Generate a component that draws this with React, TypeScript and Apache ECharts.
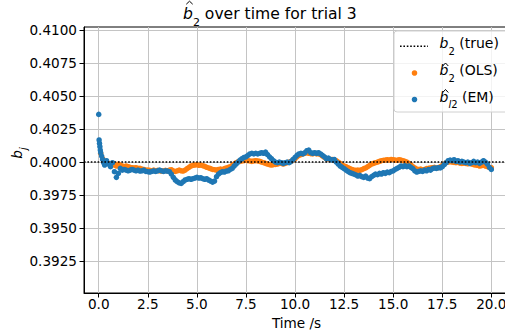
import React, { useEffect, useRef } from "react";
import * as echarts from "echarts";

// Estimates of the b_2 coefficient sampled along the trial (seconds, value)
const sampleTimes: number[] = Array.from({ length: 200 }, (_, i) => (i + 1) / 10);

const olsEstimate: number[] = [
  0.40066, 0.40025, 0.3999, 0.4, 0.3999, 0.3998, 0.3999, 0.39977, 0.3997, 0.39985,
  0.39977, 0.3997, 0.39965, 0.3997, 0.39965, 0.3996, 0.39957, 0.39955, 0.39957, 0.39952,
  0.39952, 0.39947, 0.39944, 0.39939, 0.39939, 0.39937, 0.39934, 0.39939, 0.39934, 0.39937,
  0.39934, 0.39932, 0.39934, 0.39937, 0.39934, 0.39939, 0.39942, 0.39934, 0.39929, 0.39934,
  0.39939, 0.39934, 0.39932, 0.39939, 0.3995, 0.3996, 0.3997, 0.39975, 0.39977, 0.3998,
  0.39975, 0.39977, 0.39972, 0.39967, 0.3996, 0.39955, 0.3995, 0.39944, 0.39942, 0.39939,
  0.39944, 0.39947, 0.39944, 0.3995, 0.39955, 0.3996, 0.39965, 0.39975, 0.39985, 0.39995,
  0.40003, 0.40005, 0.40008, 0.4001, 0.40013, 0.4001, 0.40008, 0.40005, 0.40008, 0.4001,
  0.40008, 0.40005, 0.4, 0.39995, 0.3999, 0.39985, 0.3998, 0.39977, 0.3998, 0.39982,
  0.39985, 0.3999, 0.3999, 0.39985, 0.3999, 0.39995, 0.4, 0.40005, 0.40015, 0.40025,
  0.4004, 0.40051, 0.40056, 0.40061, 0.40066, 0.40071, 0.40066, 0.40063, 0.40061, 0.40066,
  0.40061, 0.40063, 0.40056, 0.40045, 0.40035, 0.40025, 0.40023, 0.4002, 0.4002, 0.40015,
  0.4001, 0.4, 0.3999, 0.39977, 0.3997, 0.39965, 0.39957, 0.3995, 0.39944, 0.39939,
  0.39937, 0.39939, 0.39937, 0.39942, 0.3995, 0.39955, 0.39965, 0.39975, 0.39985, 0.3999,
  0.39995, 0.4, 0.40005, 0.4001, 0.40013, 0.40015, 0.40018, 0.40015, 0.4002, 0.40018,
  0.40015, 0.40013, 0.40018, 0.40015, 0.4001, 0.40005, 0.4, 0.3999, 0.3998, 0.39965,
  0.39955, 0.39947, 0.39944, 0.39947, 0.39942, 0.39944, 0.3995, 0.39952, 0.39955, 0.39957,
  0.3996, 0.39955, 0.39957, 0.39965, 0.39975, 0.39985, 0.39995, 0.4, 0.40003, 0.4,
  0.39997, 0.39995, 0.39997, 0.39992, 0.3999, 0.39992, 0.3999, 0.39987, 0.3999, 0.39985,
  0.3998, 0.39977, 0.39975, 0.3997, 0.39972, 0.39975, 0.3997, 0.39965, 0.3996, 0.39957,
];

const emEstimate: number[] = [
  0.40071, 0.4002, 0.39977, 0.4001, 0.39985, 0.39965, 0.39995, 0.39927, 0.39884, 0.39914,
  0.39952, 0.39939, 0.39944, 0.39939, 0.39934, 0.39939, 0.39944, 0.39939, 0.39934, 0.39939,
  0.39932, 0.39934, 0.39939, 0.39929, 0.39927, 0.39924, 0.39929, 0.39934, 0.39929, 0.39934,
  0.39939, 0.39934, 0.39929, 0.39934, 0.39932, 0.39927, 0.39909, 0.39884, 0.39864, 0.39851,
  0.39843, 0.39838, 0.39851, 0.39864, 0.39869, 0.39874, 0.39869, 0.39874, 0.39879, 0.39884,
  0.39879, 0.39881, 0.39874, 0.39869, 0.39874, 0.39864, 0.39856, 0.39848, 0.39856, 0.39889,
  0.39909, 0.39919, 0.39927, 0.39924, 0.39932, 0.39934, 0.39944, 0.39952, 0.3997, 0.39985,
  0.4, 0.40015, 0.40025, 0.40035, 0.4004, 0.40051, 0.40061, 0.40066, 0.40061, 0.40066,
  0.40061, 0.40066, 0.40071, 0.40066, 0.40076, 0.40056, 0.4004, 0.40025, 0.4001, 0.4,
  0.39995, 0.4, 0.39995, 0.3999, 0.39995, 0.4, 0.39995, 0.40005, 0.4002, 0.40035,
  0.40051, 0.40061, 0.40066, 0.40061, 0.40071, 0.40086, 0.40091, 0.40071, 0.40066, 0.40071,
  0.40066, 0.40071, 0.40061, 0.40051, 0.4004, 0.40025, 0.4003, 0.4002, 0.40015, 0.4002,
  0.4, 0.39985, 0.3997, 0.3996, 0.3995, 0.39939, 0.39929, 0.39919, 0.39914, 0.39909,
  0.39902, 0.39894, 0.39899, 0.39889, 0.39884, 0.39894, 0.39879, 0.39874, 0.39889, 0.39899,
  0.39909, 0.39904, 0.39914, 0.39909, 0.39919, 0.39914, 0.39924, 0.39919, 0.39929, 0.39934,
  0.39944, 0.39952, 0.3996, 0.3997, 0.39965, 0.39972, 0.39965, 0.3997, 0.3996, 0.3995,
  0.39934, 0.39924, 0.39929, 0.39934, 0.39929, 0.39939, 0.39934, 0.39944, 0.39939, 0.3995,
  0.39955, 0.39952, 0.39957, 0.39955, 0.39965, 0.3998, 0.39995, 0.4001, 0.40015, 0.4001,
  0.40018, 0.40005, 0.4001, 0.4, 0.40005, 0.4, 0.39995, 0.4, 0.3999, 0.39995,
  0.40005, 0.39995, 0.4, 0.3999, 0.4, 0.4001, 0.4, 0.39985, 0.3996, 0.39944,
];

// The EM filter also reports during its start-up transient
const emStartTimes: number[] = [0, 0.02, 0.04, 0.06, 0.08, 0.15, 0.25];
const emStartValues: number[] = [0.40361, 0.40167, 0.40141, 0.40116, 0.40091, 0.40045, 0.39995];

const trueB2 = 0.4;

const xTicks: number[] = [0, 2.5, 5, 7.5, 10, 12.5, 15, 17.5, 20];
const yTicks: number[] = [0.3925, 0.395, 0.3975, 0.4, 0.4025, 0.405, 0.4075, 0.41];

const FONT = "DejaVu Sans";
const ORANGE = "#ff7f0e";
const BLUE = "#1f77b4";
const TICK_FONT = 13.6;

// Rich-text styles for an italic symbol with a lowered subscript
function mathRich(size: number, subSize: number) {
  const lh = Math.round(size * 1.4);
  return {
    b: { fontFamily: FONT, fontSize: size, fontStyle: "italic", lineHeight: lh, verticalAlign: "top", fill: "#000" },
    s: { fontFamily: FONT, fontSize: subSize, lineHeight: subSize, verticalAlign: "bottom", fill: "#000" },
    si: { fontFamily: FONT, fontSize: subSize, fontStyle: "italic", lineHeight: subSize, verticalAlign: "bottom", fill: "#000" },
    t: { fontFamily: FONT, fontSize: size, lineHeight: lh, verticalAlign: "top", fill: "#000" },
  };
}

function hat(cx: number, top: number, half: number, h: number) {
  return {
    type: "polyline",
    shape: { points: [[cx - half, top + h], [cx, top], [cx + half, top + h]] },
    style: { stroke: "#000", lineWidth: 1, fill: "none" },
    z: 100,
  };
}

export default function App() {
  const ref = useRef<HTMLDivElement>(null);

  useEffect(() => {
    if (!ref.current) return;
    const chart = echarts.init(ref.current, undefined, { renderer: "svg" });

    const olsData = sampleTimes.map((t, i) => [t, olsEstimate[i]]);
    const emData = emStartTimes
      .map((t, i) => [t, emStartValues[i]])
      .concat(sampleTimes.map((t, i) => [t, emEstimate[i]]));

    const legendRows = [46.2, 73, 99.5];

    const option: any = {
      animation: false,
      backgroundColor: "#fff",
      textStyle: { fontFamily: FONT },
      grid: {
        left: 84,
        top: 27,
        width: 425,
        height: 266,
        show: true,
        borderColor: "#000",
        borderWidth: 1,
        backgroundColor: "transparent",
        outerBoundsMode: "none",
      },
      xAxis: {
        type: "value",
        min: -0.75,
        max: 20.9,
        axisLine: { show: true, onZero: false, lineStyle: { color: "#000", width: 1 } },
        axisTick: { show: true, customValues: xTicks, length: 4.5, lineStyle: { color: "#000", width: 1 } },
        axisLabel: {
          customValues: xTicks,
          formatter: (v: number) => v.toFixed(1),
          margin: 4,
          fontSize: TICK_FONT,
          color: "#000",
          fontFamily: FONT,
        },
        splitLine: { show: true, lineStyle: { color: "#c4c4c4", width: 1 } },
        name: "Time /s",
        nameLocation: "middle",
        nameGap: 17,
        nameTextStyle: { fontSize: TICK_FONT, color: "#000", fontFamily: FONT },
      },
      yAxis: {
        type: "value",
        min: 0.39008,
        max: 0.41023,
        axisLine: { show: true, onZero: false, lineStyle: { color: "#000", width: 1 } },
        axisTick: { show: true, customValues: yTicks, length: 4.5, lineStyle: { color: "#000", width: 1 } },
        axisLabel: {
          customValues: yTicks,
          formatter: (v: number) => v.toFixed(4),
          margin: 7,
          fontSize: TICK_FONT,
          color: "#000",
          fontFamily: FONT,
        },
        splitLine: { show: true, lineStyle: { color: "#c4c4c4", width: 1 } },
      },
      series: [
        {
          type: "scatter",
          name: "OLS",
          data: olsData,
          symbolSize: 5.5,
          itemStyle: { color: ORANGE, opacity: 1 },
          z: 2,
        },
        {
          type: "scatter",
          name: "EM",
          data: emData,
          symbolSize: 5.5,
          itemStyle: { color: BLUE, opacity: 1 },
          z: 3,
        },
        {
          type: "line",
          name: "true",
          data: [],
          z: 4,
          markLine: {
            silent: true,
            symbol: "none",
            label: { show: false },
            lineStyle: { color: "#000", width: 1.6, type: [1.6, 1.8], opacity: 1 },
            data: [{ yAxis: trueB2 }],
          },
        },
      ],
      graphic: [
        // title
        {
          type: "text",
          x: 183,
          y: 16.6,
          z: 100,
          style: {
            text: "{b|b}{s|2}{t| over time for trial 3}",
            rich: mathRich(15.6, 11),
            verticalAlign: "middle",
            align: "left",
          },
        },
        hat(189.5, 1.2, 3.2, 3),
        // y axis label
        {
          type: "text",
          x: 19,
          y: 153,
          rotation: Math.PI / 2,
          z: 100,
          style: {
            text: "{b|b}{si|j}",
            rich: mathRich(TICK_FONT, 10),
            verticalAlign: "middle",
            align: "center",
          },
        },
        // legend frame
        {
          type: "rect",
          shape: { x: 394, y: 31, width: 115, height: 81, r: 3 },
          style: { fill: "rgba(255,255,255,0.8)", stroke: "#d0d0d0", lineWidth: 1 },
          z: 90,
        },
        {
          type: "line",
          shape: { x1: 400, y1: legendRows[0], x2: 428, y2: legendRows[0] },
          style: { stroke: "#000", lineWidth: 1.6, lineDash: [1.6, 1.8] },
          z: 100,
        },
        {
          type: "circle",
          shape: { cx: 414.5, cy: legendRows[1], r: 2.8 },
          style: { fill: ORANGE },
          z: 100,
        },
        {
          type: "circle",
          shape: { cx: 414.5, cy: legendRows[2], r: 2.8 },
          style: { fill: BLUE },
          z: 100,
        },
        {
          type: "text",
          x: 439.5,
          y: legendRows[0],
          z: 100,
          style: { text: "{b|b}{s|2}{t| (true)}", rich: mathRich(14, 10), verticalAlign: "middle", align: "left" },
        },
        {
          type: "text",
          x: 439.5,
          y: legendRows[1],
          z: 100,
          style: { text: "{b|b}{s|2}{t| (OLS)}", rich: mathRich(14, 10), verticalAlign: "middle", align: "left" },
        },
        hat(445.5, legendRows[1] - 10, 2.8, 3),
        {
          type: "text",
          x: 439.5,
          y: legendRows[2],
          z: 100,
          style: { text: "{b|b}{si|l}{s|2}{t| (EM)}", rich: mathRich(14, 10), verticalAlign: "middle", align: "left" },
        },
        hat(445.5, legendRows[2] - 10, 2.8, 3),
      ],
    };

    chart.setOption(option);
    return () => chart.dispose();
  }, []);

  return <div ref={ref} style={{ position: "fixed", left: 0, top: 0, width: 505, height: 335 }} />;
}
